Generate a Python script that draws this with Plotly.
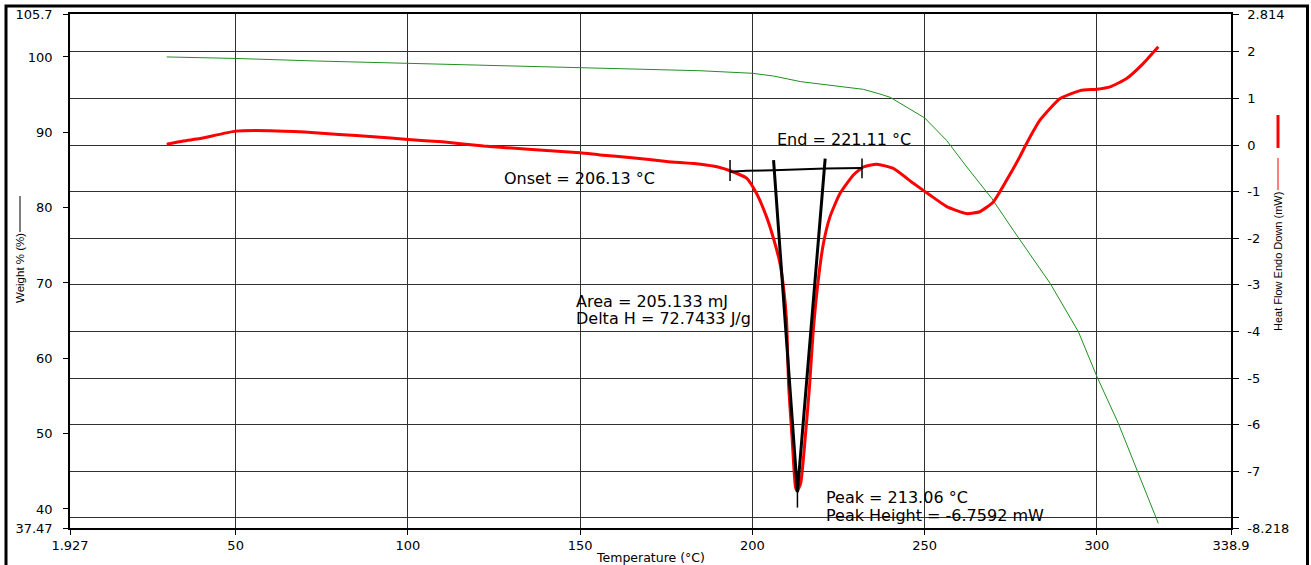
import plotly.graph_objects as go

# ---------------- data ----------------
# Heat flow curve (red, right axis, mW)
temp_hf = [30, 34.8, 39.7, 50, 60, 70, 80, 90, 100, 110, 122, 135, 150, 155.7, 165,
           175.1, 185, 190, 193.5, 198.3, 201.2, 204.1, 206.1, 208.0, 209.0, 209.9,
           210.5, 211.5, 212.5, 213.0, 214.0, 215.5, 216.6, 217.6, 219.1, 220.6,
           222.5, 225.4, 229.3, 232.2, 236.1, 240.9, 246.7, 251.5, 256.4, 262.2,
           266.0, 269.9, 273.8, 277.6, 279.6, 283.5, 289.3, 295.1, 300, 303.8,
           308.6, 313.4, 317.8]
heat_flow = [0.02, 0.09, 0.14, 0.30, 0.31, 0.28, 0.23, 0.18, 0.12, 0.07, -0.02, -0.09,
             -0.165, -0.21, -0.27, -0.35, -0.41, -0.47, -0.55, -0.71, -1.04, -1.54,
             -2.0, -2.54, -3.04, -3.76, -5.15, -6.28, -7.34, -7.42, -7.26, -6.13,
             -5.15, -4.03, -2.9, -2.11, -1.54, -1.04, -0.64, -0.47, -0.41, -0.5,
             -0.82, -1.07, -1.32, -1.47, -1.43, -1.22, -0.75, -0.25, 0.04, 0.54,
             1.0, 1.17, 1.20, 1.25, 1.43, 1.75, 2.11]

# Weight curve (green, left axis, %)
temp_w = [30, 50, 73.5, 100, 126.7, 150, 155.7, 184.8, 200, 206.1, 214, 232.2, 237,
          240, 250, 256.4, 262.2, 269.5, 275.7, 281.5, 286.4, 294.6, 300, 306.2,
          311.5, 317.8]
weight = [100.0, 99.8, 99.46, 99.15, 98.84, 98.6, 98.49, 98.17, 97.83, 97.47, 96.72,
          95.7, 95.08, 94.64, 91.9, 88.9, 85.4, 81.2, 77.0, 73.26, 69.95, 63.53,
          57.55, 51.36, 45.39, 38.09]

# Analysis construction (black)
base_t = [193.5, 198.3, 206.13, 221.11, 231.8]
base_h = [-0.57, -0.55, -0.54, -0.50, -0.49]
tangent_t = [206.13, 213.06, 221.11]
tangent_h = [-0.32, -7.45, -0.29]
tick_t = [193.5, 231.8, 213.06]
tick_h_top = [-0.32, -0.29, -7.15]
tick_h_bot = [-0.77, -0.71, -7.78]

onset_txt = "Onset = 206.13 °C"
end_txt = "End = 221.11 °C"
area_txt = "Area = 205.133 mJ"
dh_txt = "Delta H = 72.7433 J/g"
peak_txt = "Peak = 213.06 °C"
ph_txt = "Peak Height = -6.7592 mW"

x_ticks = [1.927, 50, 100, 150, 200, 250, 300, 338.9]
x_labels = ["1.927", "50", "100", "150", "200", "250", "300", "338.9"]
yl_ticks = [105.7, 100, 90, 80, 70, 60, 50, 40, 37.47]
yl_labels = ["105.7", "100", "90", "80", "70", "60", "50", "40", "37.47"]
yr_ticks = [2.814, 2, 1, 0, -1, -2, -3, -4, -5, -6, -7, -8, -8.218]
yr_labels = ["2.814", "2", "1", "0", "-1", "-2", "-3", "-4", "-5", "-6", "-7", "", "-8.218"]

# ---------------- figure ----------------
W, H = 1311, 565
L, R, T, B = 70, 80, 14, 37
pw, ph = W - L - R, H - T - B


def px(xp):
    return (xp - L) / pw


def py(yp):
    return (H - B - yp) / ph


fig = go.Figure()
fig.add_trace(go.Scatter(x=temp_w, y=weight, mode="lines",
                         line=dict(color="#1f901f", width=1), yaxis="y"))
fig.add_trace(go.Scatter(x=temp_hf, y=heat_flow, mode="lines",
                         line=dict(color="#ff0000", width=3, shape="spline", smoothing=0.5),
                         yaxis="y2"))
fig.add_trace(go.Scatter(x=base_t, y=base_h, mode="lines",
                         line=dict(color="black", width=2), yaxis="y2"))
fig.add_trace(go.Scatter(x=tangent_t, y=tangent_h, mode="lines",
                         line=dict(color="black", width=3), yaxis="y2"))
for t, a, b in zip(tick_t, tick_h_top, tick_h_bot):
    fig.add_trace(go.Scatter(x=[t, t], y=[a, b], mode="lines",
                             line=dict(color="black", width=1.5), yaxis="y2"))

tick_font = dict(family="DejaVu Sans", size=13, color="black")
grid_col = "#303030"

fig.update_layout(
    width=W, height=H, showlegend=False,
    margin=dict(l=L, r=R, t=T, b=B, autoexpand=False),
    paper_bgcolor="white", plot_bgcolor="white",
    xaxis=dict(range=[1.927, 338.9], tickvals=x_ticks, ticktext=x_labels,
               showgrid=True, gridcolor=grid_col, gridwidth=1, zeroline=False,
               showline=True, linecolor="black", linewidth=1.5, mirror=True,
               ticks="outside", ticklen=5, tickcolor="black", tickfont=tick_font,
               automargin=False),
    yaxis=dict(range=[37.47, 105.7], tickvals=yl_ticks, ticktext=yl_labels,
               showgrid=False, zeroline=False, showline=True, linecolor="black",
               linewidth=1.5, ticks="outside", ticklen=5, tickcolor="black",
               tickfont=tick_font, ticklabelstandoff=8, automargin=False),
    yaxis2=dict(range=[-8.218, 2.814], tickvals=yr_ticks, ticktext=yr_labels,
                overlaying="y", side="right", showgrid=True, gridcolor=grid_col,
                gridwidth=1, zeroline=False, showline=True, linecolor="black",
                linewidth=1.5, ticks="outside", ticklen=6, tickcolor="black",
                tickfont=tick_font, ticklabelstandoff=6, automargin=False),
)

ann_font = dict(family="DejaVu Sans", size=16, color="black")
for txt, xt, yh in [(onset_txt, 127.2, -0.715), (end_txt, 206.5, 0.13),
                    (area_txt, 148.35, -3.35), (dh_txt, 148.35, -3.73),
                    (peak_txt, 220.65, -7.57), (ph_txt, 220.65, -7.95)]:
    fig.add_annotation(x=xt, y=yh, xref="x", yref="y2", text=txt, showarrow=False,
                       xanchor="left", yanchor="middle", font=ann_font)

fig.add_annotation(x=0.5, y=py(557), xref="paper", yref="paper", text="Temperature (°C)",
                   showarrow=False, xanchor="center", yanchor="middle",
                   font=dict(family="DejaVu Sans", size=12.5, color="black"))
fig.add_annotation(x=px(20), y=py(268), xref="paper", yref="paper", text="Weight % (%)",
                   showarrow=False, textangle=-90, xanchor="center", yanchor="middle",
                   font=dict(family="Liberation Sans", size=11.5, color="black"))
fig.add_annotation(x=px(1278), y=py(262), xref="paper", yref="paper",
                   text="Heat Flow Endo Down (mW)", showarrow=False, textangle=-90,
                   xanchor="center", yanchor="middle",
                   font=dict(family="Liberation Sans", size=11, color="black"))

# legend swatches next to axis titles
fig.add_shape(type="line", xref="paper", yref="paper", x0=px(20), x1=px(20),
              y0=py(196), y1=py(232), line=dict(color="black", width=1))
fig.add_shape(type="line", xref="paper", yref="paper", x0=px(1278), x1=px(1278),
              y0=py(115), y1=py(148), line=dict(color="#ff0000", width=3))
fig.add_shape(type="line", xref="paper", yref="paper", x0=px(1278), x1=px(1278),
              y0=py(158), y1=py(190), line=dict(color="#ff0000", width=1))
# outer frame
fig.add_shape(type="rect", xref="paper", yref="paper", x0=px(6), x1=px(1307.5),
              y0=py(572), y1=py(6), line=dict(color="black", width=3))

fig.write_html("out.html")
